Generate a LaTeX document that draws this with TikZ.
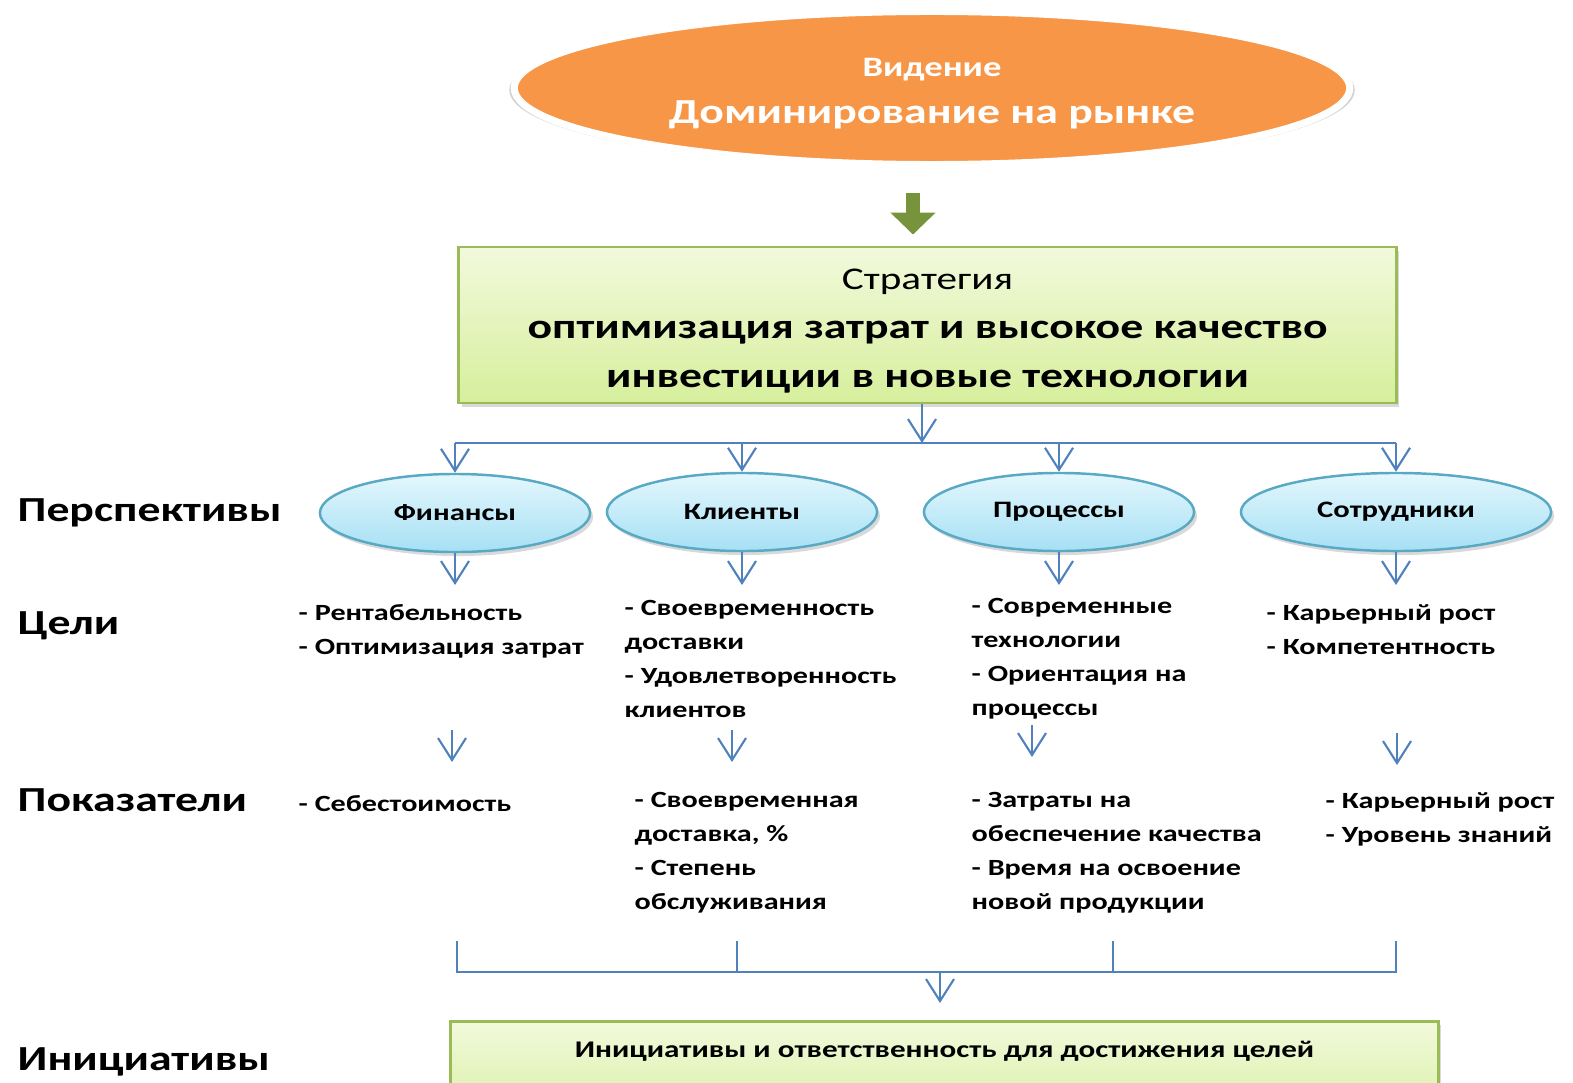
\documentclass[tikz,border=0pt]{standalone}
\usepackage{fontspec}
\setmainfont[FakeStretch=1.3]{Carlito}
\usetikzlibrary{positioning,arrows.meta,shapes.geometric,shadows}

\definecolor{visionorange}{HTML}{F79646}
\definecolor{arrowgreen}{HTML}{77933C}
\definecolor{boxedge}{HTML}{9BBB59}
\definecolor{boxtop}{HTML}{F2F9DC}
\definecolor{boxbottom}{HTML}{D6EF9C}
\definecolor{perspedge}{HTML}{5AA9C4}
\definecolor{persptop}{HTML}{E4F7FD}
\definecolor{perspbottom}{HTML}{A6E0F4}
\definecolor{linkblue}{HTML}{4F81BD}

\begin{document}
\begin{tikzpicture}[
    x=0.01cm, y=-0.01cm,
    link/.style={draw=linkblue, line width=0.6pt},
    arr/.style={link, -{Straight Barb[length=2.2mm, width=2.8mm]}},
    bigarrow/.style={draw=arrowgreen, line width=0.14cm, -{Triangle[length=2.2mm, width=4.4mm]}},
    softshadow/.style={drop shadow={opacity=0.3, shadow xshift=0.03cm, shadow yshift=-0.04cm}},
    greenbox/.style={rectangle, draw=boxedge, line width=0.8pt, top color=boxtop, bottom color=boxbottom, softshadow},
    persp/.style={ellipse, draw=perspedge, line width=0.7pt, top color=persptop, bottom color=perspbottom,
        minimum width=2.7cm, minimum height=0.78cm, inner sep=0pt, font=\fontsize{6.7}{8}\selectfont\bfseries, softshadow},
    rowlabel/.style={anchor=west, inner sep=0pt, yshift=-0.05cm, font=\fontsize{10}{12}\selectfont\bfseries},
    items/.style={anchor=north west, align=left, inner sep=0pt, font=\fontsize{6.6}{9.64}\selectfont\bfseries}
]
\useasboundingbox (0,0) rectangle (1573,1082);
\clip (0,0) rectangle (1573,1082);

% Vision and strategy
\node[ellipse, draw=white, line width=2pt, fill=visionorange, minimum width=8.35cm, minimum height=1.53cm,
      drop shadow={opacity=0.35, shadow xshift=0cm, shadow yshift=-0.02cm, shadow scale=1.012}] (vision) at (932,88) {};
\node[text=white, align=center, font=\bfseries] (vision-text) at (932,94)
      {{\fontsize{8}{10}\selectfont Видение}\\[0.05cm]{\fontsize{10}{12}\selectfont Доминирование на рынке}};
\node[greenbox, minimum width=9.37cm, minimum height=1.56cm] (strat) at (927.5,325) {};
\node[align=center, font=\fontsize{9}{13.9}\selectfont] (strat-text) at (927.5,331)
      {Стратегия\\{\fontsize{10}{13.9}\selectfont\bfseries оптимизация затрат и высокое качество}\\
       {\fontsize{10}{13.9}\selectfont\bfseries инвестиции в новые технологии}};
\draw[bigarrow, shorten <=0.25cm, shorten >=0.11cm] ([xshift=-0.19cm]vision.south) -- ([xshift=-0.19cm]vision.south |- strat.north);

% Perspectives
\node[persp] (fin) at (455,513) {Финансы};
\node[persp] (cli) at (742,512) {Клиенты};
\node[persp] (proc) at (1059,512) {Процессы};
\node[persp, minimum width=3.1cm] (emp) at (1396,512) {Сотрудники};

\coordinate (hub) at (922,443);
\draw[arr] (strat.south -| hub) -- (hub);
\draw[link] (fin.north |- hub) -- (emp.north |- hub);
\foreach \n in {fin,cli,proc,emp}{
    \draw[arr] (\n.north |- hub) -- (\n.north);
    \coordinate (\n-aim) at (\n.south |- 0,585);
    \draw[arr] (\n.south) -- (\n-aim);
}

% Row labels
\node[rowlabel] (lab-persp) at (17,508) {Перспективы};
\node[rowlabel] (lab-goals) at (17,621) {Цели};
\node[rowlabel] (lab-kpi) at (17,795) {Показатели};
\node[rowlabel] (lab-init) at (17,1057) {Инициативы};

% Goals
\node[items] (g-fin) at (298,604) {- Рентабельность\\- Оптимизация затрат};
\node[items] (g-cli) at (624,600) {- Своевременность\\доставки\\- Удовлетворенность\\клиентов};
\node[items] (g-proc) at (971,598) {- Современные\\технологии\\- Ориентация на\\процессы};
\node[items] (g-emp) at (1266,604) {- Карьерный рост\\- Компетентность};

\foreach \n/\x/\ya in {fin/452/730, cli/732/730, proc/1032/725, emp/1397/733}{
    \coordinate (\n-from) at (\x,\ya);
    \coordinate (\n-to) at (\x,\ya+32);
    \draw[arr] (\n-from) -- (\n-to);
}

% Indicators
\node[items] (k-fin) at (298,795) {- Себестоимость};
\node[items] (k-cli) at (634,792) {- Своевременная\\доставка, \%\\- Степень\\обслуживания};
\node[items] (k-proc) at (971,792) {- Затраты на\\обеспечение качества\\- Время на освоение\\новой продукции};
\node[items] (k-emp) at (1325,792) {- Карьерный рост\\- Уровень знаний};

% Initiatives
\node[greenbox, minimum width=9.87cm, anchor=north, inner ysep=0.12cm, text height=0.24cm, text depth=0.65cm,
      font=\fontsize{6.8}{8}\selectfont\bfseries] (init) at (944.5,1020)
      {Инициативы и ответственность для достижения целей};

\coordinate (join) at (940,972);
\foreach \x [count=\i] in {457,737,1113,1396}
    \coordinate (drop\i) at (\x,941);
\draw[link] (drop1) -- (drop1 |- join) -- (drop4 |- join) -- (drop4);
\draw[link] (drop2) -- (drop2 |- join);
\draw[link] (drop3) -- (drop3 |- join);
\draw[arr, shorten >=0.17cm] (join) -- (join |- init.north);

\end{tikzpicture}
\end{document}
